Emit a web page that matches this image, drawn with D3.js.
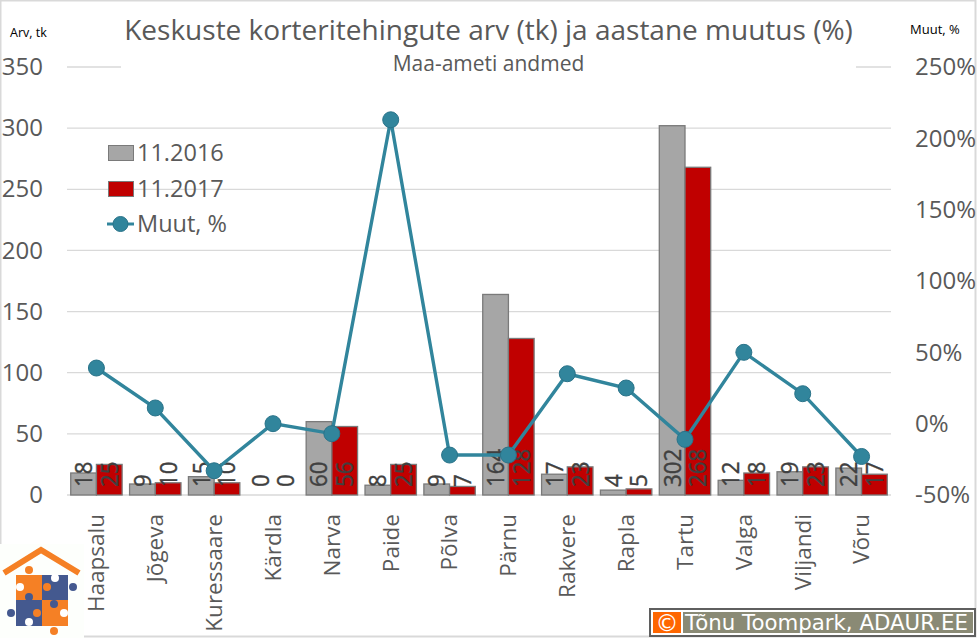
<!DOCTYPE html>
<html>
<head>
<meta charset="utf-8">
<script src="https://cdn.jsdelivr.net/npm/d3@7"></script>
<style>
  body {margin: 0; background: #fff;}
  svg {display: block;}
  text {font-family: 'Open Sans', sans-serif; fill: #595959;}
  .domain {display: none;}
  .tick line {display: none;}
</style>
</head>
<body>
<div id="chart"></div>
<script>
var cities = ['Haapsalu', 'Jõgeva', 'Kuressaare', 'Kärdla', 'Narva', 'Paide', 'Põlva', 'Pärnu', 'Rakvere', 'Rapla', 'Tartu', 'Valga', 'Viljandi', 'Võru']
var deals2016 = [18, 9, 15, 0, 60, 8, 9, 164, 17, 4, 302, 12, 19, 22]
var deals2017 = [25, 10, 10, 0, 56, 25, 7, 128, 23, 5, 268, 18, 23, 17]
var change = [39, 11, -33, 0, -7, 213, -22, -22, 35, 25, -11, 50, 21, -23]
var countTicks = [0, 50, 100, 150, 200, 250, 300, 350]
var changeTicks = [-50, 0, 50, 100, 150, 200, 250]

var grey = '#a6a6a6'
var red = '#c00000'
var teal = '#31859c'

var width = 977, height = 638
var left = 67, right = 891, top_ = 67, bottom = 495

var svg = d3.select('#chart').append('svg')
  .attr('width', width)
  .attr('height', height)

// frame
svg.append('rect')
  .attr('x', 0.5).attr('y', 0.5)
  .attr('width', 975).attr('height', 636)
  .attr('fill', '#fff')
  .attr('stroke', '#d9d9d9')
  .attr('stroke-width', 2)

var x = d3.scaleBand().domain(cities).range([left, right])
var xBar = d3.scaleBand().domain([0, 1]).range([0, 51.4])
var y = d3.scaleLinear().domain([0, 350]).range([bottom, top_])
var y2 = d3.scaleLinear().domain([-50, 250]).range([bottom, top_])

// gridlines
svg.append('g').selectAll('line')
  .data(countTicks)
  .join('line')
  .attr('x1', left)
  .attr('x2', right)
  .attr('y1', d => y(d))
  .attr('y2', d => y(d))
  .attr('stroke', '#d9d9d9')
  .attr('stroke-width', 1.3)

// axes
var leftAxis = svg.append('g')
  .attr('transform', 'translate(' + left + ',0)')
  .call(d3.axisLeft(y).tickValues(countTicks).tickSize(0).tickPadding(24))
leftAxis.selectAll('text')
  .style('font-family', "'Open Sans', sans-serif")
  .style('font-size', '24px')
  .attr('fill', '#595959')

var rightAxis = svg.append('g')
  .attr('transform', 'translate(' + right + ',0)')
  .call(d3.axisRight(y2).tickValues(changeTicks).tickFormat(d => d + '%').tickSize(0).tickPadding(24))
rightAxis.selectAll('text')
  .style('font-family', "'Open Sans', sans-serif")
  .style('font-size', '24px')
  .attr('fill', '#595959')

var bottomAxis = svg.append('g')
  .attr('transform', 'translate(0,' + bottom + ')')
  .call(d3.axisBottom(x).tickSize(0).tickPadding(0))
bottomAxis.selectAll('text')
  .attr('transform', 'translate(0,19) rotate(-90)')
  .attr('x', 0)
  .attr('y', 0)
  .attr('dy', '.35em')
  .style('text-anchor', 'end')
  .style('font-family', "'Open Sans', sans-serif")
  .style('font-size', '22.5px')
  .attr('fill', '#595959')

// bars
var series = [deals2016, deals2017]
var colors = [grey, red]
var group = svg.selectAll('g.series')
  .data(series)
  .join('g')
  .attr('class', 'series')

group.selectAll('rect')
  .data((d, i) => d.map((v, j) => ({v, j, i})))
  .join('rect')
  .attr('x', d => x(cities[d.j]) + (x.bandwidth() - 51.4) / 2 + xBar(d.i))
  .attr('width', xBar.bandwidth())
  .attr('y', d => y(d.v))
  .attr('height', d => y(0) - y(d.v))
  .attr('fill', d => colors[d.i])
  .attr('stroke', d => d.v ? '#7a7a7a' : 'none')
  .attr('stroke-width', 1.3)

// data labels sit at the bar base, turned sideways, under the line
group.selectAll('text')
  .data((d, i) => d.map((v, j) => ({v, j, i})))
  .join('text')
  .attr('transform', d => 'translate(' + (x(cities[d.j]) + (x.bandwidth() - 51.4) / 2 + xBar(d.i) + xBar.bandwidth() / 2) + ',' + (bottom - 8) + ') rotate(-90) scale(.95,1)')
  .attr('dy', '.36em')
  .style('font-size', '23.5px')
  .style('fill', '#404040')
  .style('stroke', '#404040')
  .style('stroke-width', 0.4)
  .text(d => d.v)

// line
var line = d3.line()
  .x((d, i) => x(cities[i]) + x.bandwidth() / 2)
  .y(d => y2(d))

svg.append('path')
  .datum(change)
  .attr('d', line)
  .attr('fill', 'none')
  .attr('stroke', teal)
  .attr('stroke-width', 3.4)

svg.append('g').selectAll('circle')
  .data(change)
  .join('circle')
  .attr('cx', (d, i) => x(cities[i]) + x.bandwidth() / 2)
  .attr('cy', d => y2(d))
  .attr('r', 8)
  .attr('fill', teal)
  .attr('stroke', '#2a7389')

// title
svg.append('text')
  .attr('x', 488.5)
  .attr('y', 40)
  .attr('text-anchor', 'middle')
  .style('font-size', '28px')
  .text('Keskuste korteritehingute arv (tk) ja aastane muutus (%)')

svg.append('rect')
  .attr('x', 121).attr('y', 52)
  .attr('width', 735).attr('height', 26)
  .attr('fill', '#fff')

svg.append('text')
  .attr('x', 488.5)
  .attr('y', 71)
  .attr('text-anchor', 'middle')
  .style('font-size', '21px')
  .text('Maa-ameti andmed')

// axis units
svg.append('text')
  .attr('x', 10).attr('y', 37)
  .style('font-size', '12.5px')
  .style('fill', '#000')
  .text('Arv, tk')

svg.append('text')
  .attr('x', 910).attr('y', 34)
  .style('font-size', '13px')
  .style('fill', '#000')
  .text('Muut, %')

// legend
var legendNames = ['11.2016', '11.2017']
var legendY = [153, 189]
legendNames.forEach((d, i) => {
  svg.append('rect')
    .attr('x', 108.5).attr('y', legendY[i] - 7.5)
    .attr('width', 25).attr('height', 15)
    .attr('fill', colors[i])
    .attr('stroke', '#7a7a7a')
  svg.append('text')
    .attr('x', 137).attr('y', legendY[i] + 8)
    .style('font-size', '23.5px')
    .text(d)
})
svg.append('line')
  .attr('x1', 107).attr('x2', 134)
  .attr('y1', 224).attr('y2', 224)
  .attr('stroke', teal).attr('stroke-width', 3)
svg.append('circle')
  .attr('cx', 120.5).attr('cy', 224).attr('r', 7.5)
  .attr('fill', teal).attr('stroke', '#2a7389')
svg.append('text')
  .attr('x', 137).attr('y', 232)
  .style('font-size', '23.5px')
  .text('Muut, %')

// logo
var orange = '#f58025', blue = '#44598f'
var logo = svg.append('g')
logo.append('rect').attr('x', 0).attr('y', 544).attr('width', 84).attr('height', 94).attr('fill', '#fdfffc')
logo.append('path')
  .attr('d', 'M4,573L41,550L79,573')
  .attr('fill', 'none').attr('stroke', orange).attr('stroke-width', 6)
var pieces = [
  [16, 575, orange, 29, 570],
  [42, 575, blue, 73, 587],
  [16, 600, blue, 11, 613],
  [42, 600, orange, 54, 631]
]
pieces.forEach(d => {
  logo.append('rect').attr('x', d[0]).attr('y', d[1]).attr('width', 26).attr('height', 26).attr('fill', d[2])
  logo.append('circle').attr('cx', d[3]).attr('cy', d[4]).attr('r', 4).attr('fill', d[2])
})
// inner knobs and cut-outs
var knobs = [
  [47, 587, orange], [29, 597, blue], [54, 604, blue], [37, 613, orange],
  [20, 587, '#fff'], [55, 578, '#fff'], [29, 622, '#fff'], [64, 613, '#fff']
]
knobs.forEach(d => {
  logo.append('circle').attr('cx', d[0]).attr('cy', d[1]).attr('r', 4).attr('fill', d[2])
})

// credit
var credit = svg.append('g')
credit.append('rect').attr('x', 650).attr('y', 609).attr('width', 325).attr('height', 27).attr('fill', '#fff').attr('stroke', '#5f5f5f').attr('stroke-width', 2)
credit.append('rect').attr('x', 653).attr('y', 612).attr('width', 28).attr('height', 21).attr('fill', '#ff6600')
credit.append('rect').attr('x', 683).attr('y', 612).attr('width', 290).attr('height', 21).attr('fill', '#8a8a75')
credit.append('text')
  .attr('x', 667).attr('y', 631)
  .attr('text-anchor', 'middle')
  .style('font-family', "'DejaVu Sans', sans-serif")
  .style('font-size', '23px')
  .style('fill', '#fff')
  .text('©')
credit.append('text')
  .attr('x', 685).attr('y', 630)
  .style('font-family', "'DejaVu Sans', sans-serif")
  .style('font-size', '21.3px')
  .style('fill', '#fff')
  .text('Tõnu Toompark, ADAUR.EE')
</script>
</body>
</html>
